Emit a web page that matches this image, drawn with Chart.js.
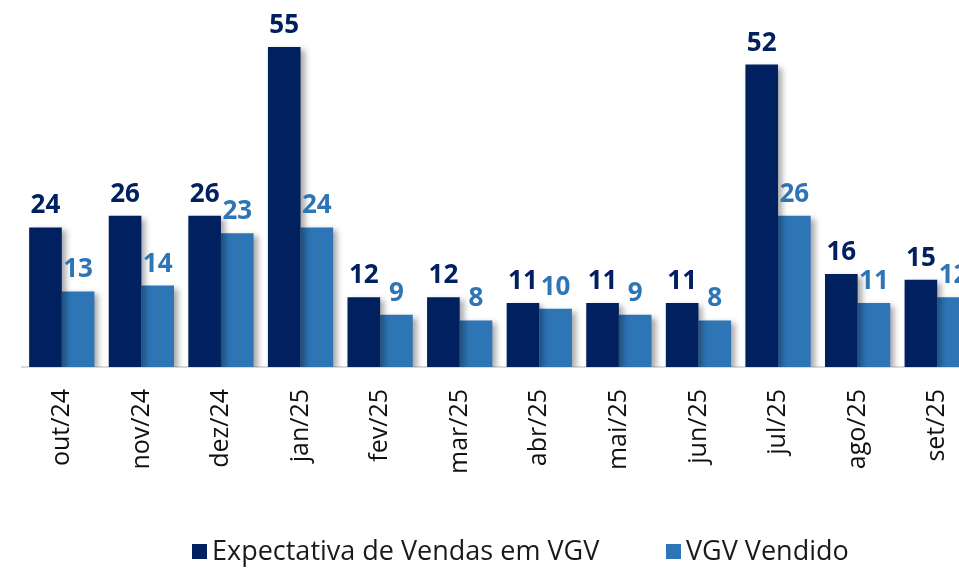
<!DOCTYPE html>
<html>
<head>
<meta charset="utf-8">
<script src="https://cdn.jsdelivr.net/npm/chart.js@4/dist/chart.umd.min.js"></script>
<style>
  html, body { margin: 0; padding: 0; background: #fff; overflow: hidden; }
  #wrap { position: relative; width: 959px; height: 568px; overflow: hidden; }
  canvas { position: absolute; left: 0; top: 0; }
  .leg { position: absolute; top: 531px; font-family: "Open Sans", "Noto Sans", sans-serif; font-size: 27px; color: #1a1a1a; white-space: nowrap; line-height: 37px; }
  .leg i { display: inline-block; width: 15px; height: 15px; margin-right: 5px; vertical-align: 1px; }
</style>
</head>
<body>
<div id="wrap">
  <canvas id="chart" width="990" height="568"></canvas>
  <div class="leg" style="left:192px"><i style="background:#002060"></i>Expectativa de Vendas em VGV</div>
  <div class="leg" style="left:666px"><i style="background:#2e75b6"></i>VGV Vendido</div>
</div>
<script>
var months = ["out/24", "nov/24", "dez/24", "jan/25", "fev/25", "mar/25", "abr/25", "mai/25", "jun/25", "jul/25", "ago/25", "set/25"];
var expectativa = [24, 26, 26, 55, 12, 12, 11, 11, 11, 52, 16, 15];
var vendido = [13, 14, 23, 24, 9, 8, 10, 9, 8, 26, 11, 12];

var navy = '#002060';
var blue = '#2e75b6';

// soft drop shadow behind the bars
var barShadow = {
    id: 'barShadow',
    beforeDatasetsDraw: function (chart) {
        var ctx = chart.ctx;
        ctx.save();
        ctx.shadowColor = 'rgba(0, 0, 0, 0.35)';
        ctx.shadowBlur = 6;
        ctx.shadowOffsetX = 4;
        ctx.shadowOffsetY = 3;
    },
    afterDatasetsDraw: function (chart) {
        chart.ctx.restore();
    }
};

// value labels above each bar
var valueLabels = {
    id: 'valueLabels',
    afterDraw: function (chart) {
        var ctx = chart.ctx;
        ctx.save();
        ctx.font = 'bold 26px "Open Sans", "Noto Sans", sans-serif';
        ctx.textAlign = 'center';
        ctx.textBaseline = 'alphabetic';
        chart.data.datasets.forEach(function (ds, i) {
            var meta = chart.getDatasetMeta(i);
            ctx.fillStyle = ds.labelColor;
            meta.data.forEach(function (bar, j) {
                ctx.fillText(ds.data[j], bar.x, bar.y - 14);
            });
        });
        ctx.restore();
    }
};

new Chart(document.getElementById('chart').getContext('2d'), {
    type: 'bar',
    data: {
        labels: months,
        datasets: [{
            label: 'Expectativa de Vendas em VGV',
            data: expectativa,
            backgroundColor: navy,
            labelColor: navy
        }, {
            label: 'VGV Vendido',
            data: vendido,
            backgroundColor: blue,
            labelColor: '#2e75b6'
        }]
    },
    options: {
        responsive: false,
        animation: false,
        layout: { padding: { left: 22, right: 13, top: 18, bottom: 0 } },
        plugins: {
            legend: { display: false },
            tooltip: { enabled: false }
        },
        datasets: {
            bar: { categoryPercentage: 0.82, barPercentage: 1 }
        },
        scales: {
            x: {
                grid: { display: false, drawTicks: false },
                border: { display: true, color: '#d9d9d9', width: 2 },
                ticks: {
                    color: '#111',
                    minRotation: 90,
                    maxRotation: 90,
                    padding: 22,
                    font: { family: '"Open Sans", "Noto Sans", sans-serif', size: 25 }
                },
                afterFit: function (scale) { scale.height = 201; }
            },
            y: {
                display: false,
                min: 0,
                max: 60
            }
        }
    },
    plugins: [barShadow, valueLabels]
});
</script>
</body>
</html>
